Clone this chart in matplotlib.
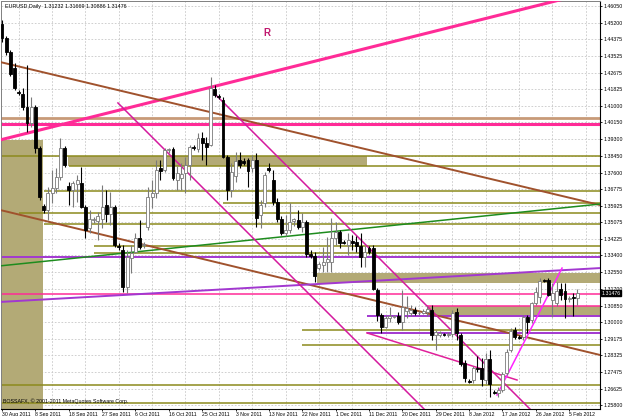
import numpy as np
import matplotlib.pyplot as plt

plt.rcParams['font.family'] = ['Liberation Sans', 'DejaVu Sans']

# EURUSD daily bars, 30 Aug 2011 .. 7 Feb 2012 (sunday bars included)
opens = [1.4514, 1.4443, 1.4372, 1.4290, 1.4169, 1.4159, 1.4092, 1.4011, 1.4092, 1.3884,
         1.3590, 1.3570, 1.3656, 1.3682, 1.3737, 1.3884, 1.3692, 1.3671, 1.3702, 1.3707,
         1.3585, 1.3479, 1.3519, 1.3514, 1.3524, 1.3595, 1.3549, 1.3585, 1.3387, 1.3367,
         1.3179, 1.3326, 1.3357, 1.3428, 1.3392, 1.3484, 1.3636, 1.3656, 1.3783, 1.3773,
         1.3874, 1.3879, 1.3722, 1.3732, 1.3758, 1.3798, 1.3889, 1.3879, 1.3935, 1.3910,
         1.3900, 1.4184, 1.4148, 1.4128, 1.3839, 1.3671, 1.3742, 1.3823, 1.3818, 1.3823,
         1.3783, 1.3823, 1.3544, 1.3605, 1.3783, 1.3722, 1.3610, 1.3524, 1.3453, 1.3468,
         1.3514, 1.3519, 1.3484, 1.3509, 1.3346, 1.3336, 1.3276, 1.3291, 1.3306, 1.3306,
         1.3428, 1.3458, 1.3407, 1.3392, 1.3412, 1.3407, 1.3387, 1.3331, 1.3377, 1.3377,
         1.3164, 1.3037, 1.2976, 1.3022, 1.3027, 1.3032, 1.3001, 1.3057, 1.3047, 1.3062,
         1.3047, 1.3047, 1.3052, 1.3062, 1.2935, 1.2935, 1.2940, 1.2935, 1.2940, 1.3052,
         1.2935, 1.2793, 1.2702, 1.2707, 1.2768, 1.2768, 1.2707, 1.2814, 1.2646, 1.2641,
         1.2656, 1.2743, 1.2859, 1.2961, 1.2925, 1.2925, 1.3027, 1.3012, 1.3098, 1.3128,
         1.3215, 1.3215, 1.3113, 1.3098, 1.3169, 1.3159, 1.3118, 1.3128, 1.31232]
highs = [1.4534, 1.4453, 1.4382, 1.4316, 1.4179, 1.4189, 1.4306, 1.4143, 1.4103, 1.3895,
         1.3600, 1.3687, 1.3773, 1.3783, 1.3935, 1.3895, 1.3712, 1.3717, 1.3747, 1.3788,
         1.3595, 1.3570, 1.3534, 1.3560, 1.3697, 1.3671, 1.3661, 1.3595, 1.3402, 1.3392,
         1.3367, 1.3392, 1.3453, 1.3519, 1.3407, 1.3687, 1.3722, 1.3823, 1.3823, 1.3884,
         1.3884, 1.3889, 1.3793, 1.3808, 1.3839, 1.3900, 1.3900, 1.3960, 1.3966, 1.3940,
         1.4245, 1.4204, 1.4159, 1.4143, 1.3849, 1.3808, 1.3864, 1.3864, 1.3834, 1.3834,
         1.3849, 1.3859, 1.3621, 1.3763, 1.3808, 1.3773, 1.3631, 1.3539, 1.3544, 1.3605,
         1.3529, 1.3570, 1.3555, 1.3519, 1.3367, 1.3357, 1.3306, 1.3382, 1.3433, 1.3529,
         1.3509, 1.3468, 1.3418, 1.3453, 1.3443, 1.3438, 1.3453, 1.3387, 1.3387, 1.3392,
         1.3174, 1.3047, 1.3037, 1.3077, 1.3037, 1.3052, 1.3164, 1.3133, 1.3088, 1.3077,
         1.3057, 1.3067, 1.3083, 1.3088, 1.2961, 1.2956, 1.2946, 1.2951, 1.3062, 1.3072,
         1.2946, 1.2808, 1.2712, 1.2778, 1.2829, 1.2818, 1.2844, 1.2859, 1.2656, 1.2671,
         1.2748, 1.2864, 1.2971, 1.2976, 1.2935, 1.3037, 1.3037, 1.3103, 1.3179, 1.3225,
         1.3220, 1.3225, 1.3199, 1.3204, 1.3199, 1.3199, 1.3133, 1.3149, 1.31669]
lows = [1.4422, 1.4356, 1.4250, 1.4179, 1.4153, 1.4077, 1.3966, 1.3991, 1.3859, 1.3621,
        1.3555, 1.3519, 1.3605, 1.3656, 1.3722, 1.3788, 1.3595, 1.3585, 1.3610, 1.3580,
        1.3428, 1.3453, 1.3504, 1.3418, 1.3479, 1.3509, 1.3494, 1.3382, 1.3367, 1.3154,
        1.3149, 1.3250, 1.3352, 1.3372, 1.3377, 1.3468, 1.3580, 1.3631, 1.3722, 1.3763,
        1.3859, 1.3722, 1.3671, 1.3671, 1.3656, 1.3722, 1.3874, 1.3864, 1.3823, 1.3798,
        1.3895, 1.4143, 1.4133, 1.3834, 1.3621, 1.3636, 1.3712, 1.3783, 1.3798, 1.3687,
        1.3763, 1.3484, 1.3479, 1.3585, 1.3763, 1.3595, 1.3509, 1.3443, 1.3438, 1.3453,
        1.3489, 1.3473, 1.3458, 1.3331, 1.3326, 1.3204, 1.3265, 1.3255, 1.3255, 1.3255,
        1.3392, 1.3377, 1.3397, 1.3341, 1.3367, 1.3357, 1.3280, 1.3280, 1.3346, 1.3164,
        1.3006, 1.2946, 1.2971, 1.3001, 1.3022, 1.2991, 1.2961, 1.3022, 1.3032, 1.3037,
        1.3037, 1.3042, 1.3032, 1.2910, 1.2859, 1.2925, 1.2930, 1.2925, 1.2925, 1.2910,
        1.2778, 1.2697, 1.2692, 1.2692, 1.2748, 1.2676, 1.2687, 1.2621, 1.2636, 1.2621,
        1.2646, 1.2732, 1.2849, 1.2915, 1.2915, 1.2910, 1.2946, 1.2996, 1.3088, 1.3098,
        1.3204, 1.3133, 1.3027, 1.3083, 1.3113, 1.3022, 1.3103, 1.3032, 1.30886]
closes = [1.4443, 1.4372, 1.4260, 1.4189, 1.4164, 1.4092, 1.4011, 1.4092, 1.3884, 1.3636,
          1.3570, 1.3656, 1.3682, 1.3737, 1.3884, 1.3798, 1.3671, 1.3707, 1.3722, 1.3585,
          1.3468, 1.3524, 1.3524, 1.3539, 1.3585, 1.3549, 1.3585, 1.3392, 1.3382, 1.3179,
          1.3331, 1.3352, 1.3428, 1.3382, 1.3397, 1.3636, 1.3656, 1.3773, 1.3768, 1.3874,
          1.3879, 1.3732, 1.3758, 1.3753, 1.3798, 1.3889, 1.3884, 1.3935, 1.3910, 1.3889,
          1.4189, 1.4153, 1.4143, 1.3839, 1.3671, 1.3763, 1.3818, 1.3798, 1.3808, 1.3768,
          1.3823, 1.3529, 1.3595, 1.3747, 1.3773, 1.3610, 1.3524, 1.3453, 1.3468, 1.3509,
          1.3524, 1.3484, 1.3509, 1.3346, 1.3336, 1.3235, 1.3296, 1.3306, 1.3321, 1.3428,
          1.3458, 1.3402, 1.3402, 1.3418, 1.3402, 1.3387, 1.3331, 1.3357, 1.3357, 1.3169,
          1.3037, 1.2976, 1.3022, 1.3032, 1.3032, 1.3001, 1.3077, 1.3072, 1.3062, 1.3047,
          1.3049, 1.3057, 1.3067, 1.2935, 1.2951, 1.2946, 1.2935, 1.2940, 1.3047, 1.2946,
          1.2788, 1.2717, 1.2697, 1.2768, 1.2763, 1.2712, 1.2814, 1.2687, 1.2641, 1.2656,
          1.2738, 1.2849, 1.2956, 1.2925, 1.2920, 1.3027, 1.3001, 1.3098, 1.3154, 1.3210,
          1.3210, 1.3138, 1.3149, 1.3159, 1.3138, 1.3118, 1.3123, 1.3123, 1.31476]

date_labels = ["30 Aug 2011", "8 Sep 2011", "18 Sep 2011", "27 Sep 2011", "6 Oct 2011",
               "16 Oct 2011", "25 Oct 2011", "3 Nov 2011", "13 Nov 2011", "22 Nov 2011",
               "1 Dec 2011", "11 Dec 2011", "20 Dec 2011", "29 Dec 2011", "8 Jan 2012",
               "17 Jan 2012", "26 Jan 2012", "5 Feb 2012"]
price_labels = [1.46050, 1.45200, 1.44375, 1.43525, 1.42675, 1.41825, 1.41000, 1.40150,
                1.39300, 1.38450, 1.37600, 1.36775, 1.35925, 1.35075, 1.34225, 1.33400,
                1.32550, 1.31700, 1.30850, 1.30000, 1.29175, 1.28325, 1.27475, 1.26625,
                1.25800]
last_price = 1.31476

# horizontal levels: price, first bar
olive_levels = [1.3844, 1.3793, 1.3666, 1.3605, 1.3555, 1.3499, 1.3387, 1.3352,
                1.2961, 1.2885, 1.2682, 1.2590]
olive_from = [-1, 16, 10, 53, 4, 10, 22, 22, 72, 72, -1, -1]
purple_levels = [1.3331, 1.3032, 1.2946]
purple_from = [-1, 87.5, 87.5]
pink_levels = [1.4007, 1.3144, 1.3083]
pink_from = [-1, -1, 102]
tan_level = 1.4037

# zones: first bar, last bar, low, high
zone_x0 = [-1, 15.8, 75.5, 102]
zone_x1 = [9.8, 87.5, 150, 150]
zone_lo = [1.2500, 1.3794, 1.3200, 1.3032]
zone_hi = [1.3925, 1.3844, 1.3250, 1.3083]

# trend lines: (bar, price) -> (bar, price)
trend_lines = {
    "pink_up":    ((-0.5, 1.3925), (133.8, 1.4636)),
    "brown_up":   ((-0.5, 1.4321), (143.4, 1.3595)),
    "green":      ((-0.5, 1.3286), (143.4, 1.3600)),
    "brown_low":  ((-0.5, 1.3570), (143.4, 1.2834)),
    "purple":     ((-0.5, 1.3103), (143.4, 1.3275)),
    "mag_1":      ((27.8, 1.4113), (101.2, 1.2560)),
    "mag_2":      ((50.8, 1.4164), (126.6, 1.2560)),
    "mag_3":      ((87.5, 1.2946), (123.5, 1.2707)),
    "mag_4":      ((118.7, 1.2631), (134.3, 1.3275)),
}
line_style = {
    "pink_up": ('#ff2b97', 2.2), "brown_up": ('#a0522d', 1.4), "green": ('#1e8c1e', 1.1),
    "brown_low": ('#a0522d', 1.4), "purple": ('#a238d0', 1.4), "mag_1": ('#d4199e', 1.1),
    "mag_2": ('#d4199e', 1.1), "mag_3": ('#e0209a', 1.1), "mag_4": ('#ff22ff', 1.1),
}

fig = plt.figure(figsize=(6.23, 4.16), dpi=100)
ax = fig.add_axes([1 / 623, 7 / 416, 599 / 623, 408 / 416])
ax.set_xlim(-0.24, 143.4)
ax.set_ylim(1.25598, 1.46304)

# grid
for p in price_labels:
    ax.axhline(p, color='#c8c8c8', lw=0.6, ls=(0, (2, 2)), zorder=0)
for b in range(4, 144, 8):
    ax.axvline(b, color='#c8c8c8', lw=0.6, ls=(0, (2, 2)), zorder=0)

# zones
for x0, x1, lo, hi in zip(zone_x0, zone_x1, zone_lo, zone_hi):
    ax.fill_between([x0, x1], lo, hi, color='#b3aa76', lw=0, zorder=1)

# horizontal lines
for p, x0 in zip(olive_levels, olive_from):
    ax.hlines(p, x0, 150, color='#8c8a1c', lw=1.1, zorder=2)
for p, x0 in zip(purple_levels, purple_from):
    ax.hlines(p, x0, 150, color='#a238d0', lw=1.4, zorder=2)
for p, x0, w in zip(pink_levels, pink_from, [2.2, 1.1, 1.1]):
    ax.hlines(p, x0, 150, color='#ff2b97', lw=w, zorder=2)
ax.hlines(tan_level, -1, 150, color='#c89a78', lw=2.0, zorder=2)

for name, ((x0, y0), (x1, y1)) in trend_lines.items():
    col, w = line_style[name]
    ax.plot([x0, x1], [y0, y1], color=col, lw=w, zorder=3)

# candles
o = np.array(opens); h = np.array(highs); l = np.array(lows); c = np.array(closes)
x = np.arange(len(o))
up = c >= o
ax.vlines(x[up], l[up], h[up], color='#7a7a7a', lw=0.8, zorder=4)
ax.vlines(x[~up], l[~up], h[~up], color='black', lw=0.8, zorder=4)
ax.bar(x[up], c[up] - o[up], bottom=o[up], width=0.7, color='white',
       edgecolor='#7a7a7a', lw=0.6, zorder=5)
ax.bar(x[~up], c[~up] - o[~up], bottom=o[~up], width=0.7, color='black',
       edgecolor='black', lw=0.6, zorder=5)

ax.text(63.5, 1.4468, "R", color='#c0186e', fontsize=7, fontweight='bold',
        ha='center', va='center')
ax.text(0.006, 0.993, "EURUSD,Daily  1.31232 1.31669 1.30886 1.31476",
        transform=ax.transAxes, fontsize=3.9, va='top', ha='left')
ax.text(0.004, 0.012, "BOSSAFX, \u00a9 2001-2011 MetaQuotes Software Corp.",
        transform=ax.transAxes, fontsize=3.8, va='bottom', ha='left')

# axes
ax.yaxis.tick_right()
ax.set_yticks(price_labels)
ax.set_yticklabels([f"{p:.5f}" for p in price_labels], fontsize=3.8)
ax.tick_params(axis='y', length=1.5, pad=1, width=0.6)
ax.set_xticks(np.arange(0, 137, 8))
ax.set_xticklabels(date_labels, fontsize=3.7, ha='left')
ax.tick_params(axis='x', length=1.5, pad=0.5, width=0.6)
for s in ['left', 'top']:
    ax.spines[s].set_color('#808080')
    ax.spines[s].set_linewidth(0.7)
for s in ['right', 'bottom']:
    ax.spines[s].set_linewidth(0.8)

ax.text(1.003, last_price, f"{last_price:.5f}", transform=ax.get_yaxis_transform(),
        fontsize=3.8, color='white', va='center', ha='left',
        bbox=dict(boxstyle='square,pad=0.1', fc='black', ec='black'))

fig.savefig('out.png', dpi=100)
